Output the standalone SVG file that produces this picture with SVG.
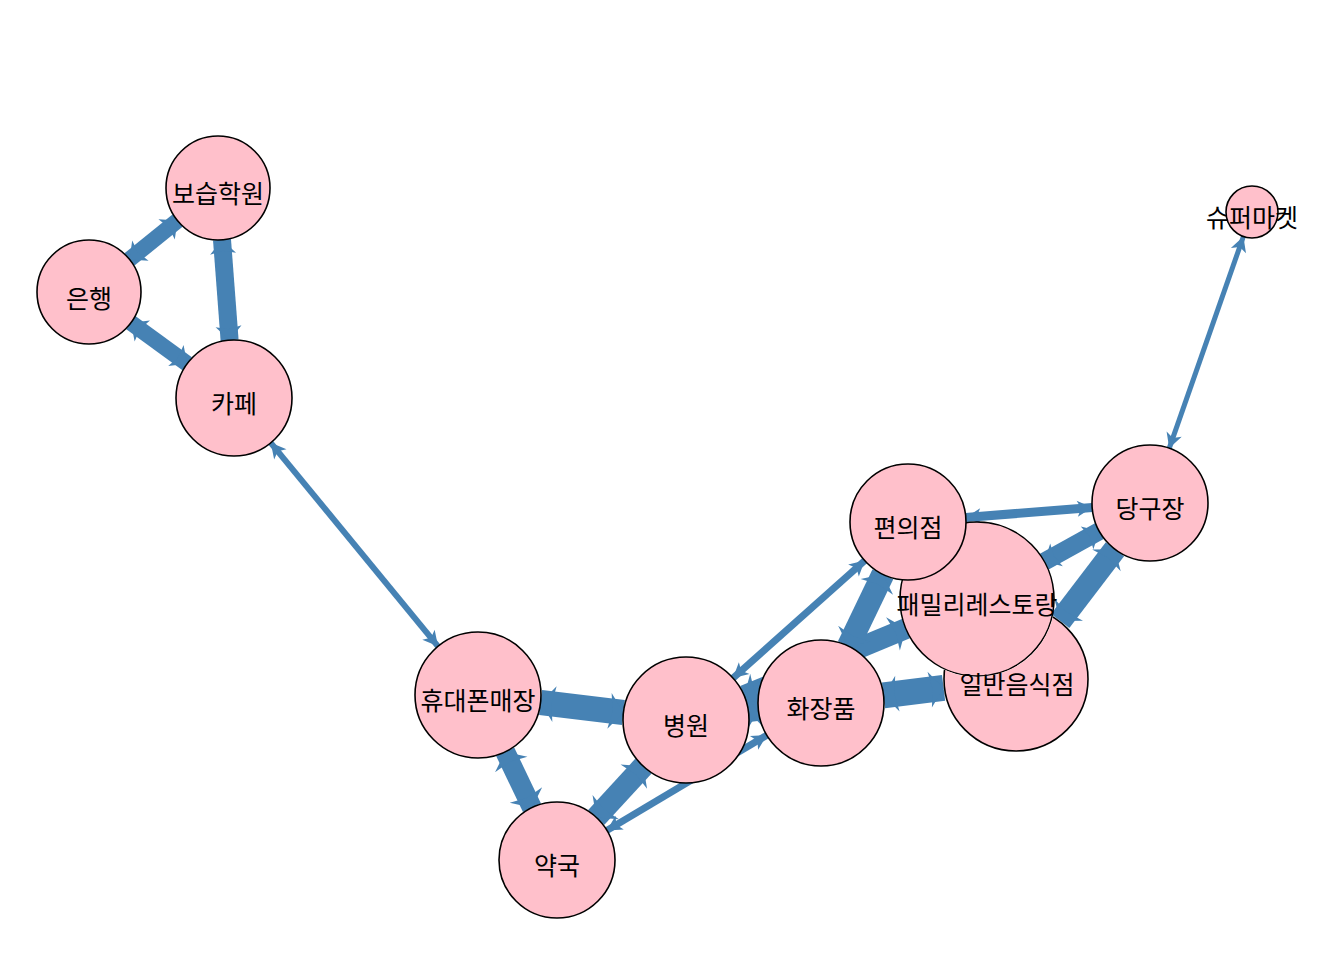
<svg xmlns="http://www.w3.org/2000/svg" width="1336" height="968" viewBox="0 0 1336 968">
<style>
.e{stroke:#4682B4;fill:none;stroke-linecap:butt}
.n{fill:#FFC0CB;stroke:#000;stroke-width:1.6}
.t{font-family:"Noto Sans CJK KR","Noto Sans",sans-serif;font-size:25px;fill:#000;text-anchor:middle;dominant-baseline:central}
.es{marker-start:url(#ah-s);marker-end:url(#ah-s)}
.em{marker-start:url(#ah-m);marker-end:url(#ah-m)}
.el{marker-start:url(#ah-l);marker-end:url(#ah-l)}
</style>
<defs>
<marker id="ah-s" viewBox="-17 -10 19 20" markerWidth="19" markerHeight="20" refX="0" refY="0" markerUnits="userSpaceOnUse" orient="auto-start-reverse"><path d="M0,0 L-15,-8 L-11,0 L-15,8 Z" fill="#4682B4"/></marker>
<marker id="ah-m" viewBox="-17 -15 19 30" markerWidth="19" markerHeight="30" refX="0" refY="0" markerUnits="userSpaceOnUse" orient="auto-start-reverse"><path d="M0,0 L-14,-13 L-11,0 L-14,13 Z" fill="#4682B4"/></marker>
<marker id="ah-l" viewBox="-17 -20 19 40" markerWidth="19" markerHeight="40" refX="0" refY="0" markerUnits="userSpaceOnUse" orient="auto-start-reverse"><path d="M0,0 L-14,-18 L-11,0 L-14,18 Z" fill="#4682B4"/></marker>
<mask id="m-fam" maskUnits="userSpaceOnUse" x="0" y="0" width="1336" height="968">
<rect x="0" y="0" width="1336" height="968" fill="#fff"/>
<circle cx="977" cy="599" r="78" fill="#000"/>
</mask>
</defs>
<rect width="1336" height="968" fill="#fff"/>
<g id="edges">
<line class="e em" stroke-width="16" x1="177.5" y1="220.6" x2="129.5" y2="259.4"/>
<line class="e em" stroke-width="18" x1="222" y1="239.8" x2="229.6" y2="340.2"/>
<line class="e em" stroke-width="16" x1="131" y1="322.7" x2="187.2" y2="363.8"/>
<line class="e es" stroke-width="6" x1="270.8" y1="442.8" x2="438" y2="646.3"/>
<line class="e el" stroke-width="25" x1="540.6" y1="702.5" x2="623.4" y2="712.5"/>
<line class="e el" stroke-width="20" x1="505.2" y1="751.8" x2="532" y2="807.7"/>
<line class="e el" stroke-width="22" x1="643.3" y1="766.3" x2="596.3" y2="817.4"/>
<line class="e es" stroke-width="7" x1="766.9" y1="735.2" x2="606.8" y2="830.4"/>
<line class="e el" stroke-width="21" x1="744.2" y1="695.8" x2="905.9" y2="628.6"/>
<line class="e el" stroke-width="20" x1="748.5" y1="712.1" x2="758.5" y2="710.9"/>
<line class="e es" stroke-width="7" x1="733" y1="678.1" x2="864.7" y2="560.6"/>
<line class="e el" stroke-width="23" x1="848.3" y1="646.2" x2="882.9" y2="574.3"/>
<line class="e el" stroke-width="26" x1="883.5" y1="695.3" x2="943.6" y2="687.9"/>
<line class="e es" stroke-width="9" x1="965.8" y1="517.5" x2="1092.2" y2="507.5"/>
<line class="e em" stroke-width="18" x1="1044.3" y1="561.6" x2="1099.3" y2="531.1"/>
<line class="e el" stroke-width="23" x1="1060.2" y1="620.9" x2="1114.9" y2="549.2"/>
<line class="e es" stroke-width="5" x1="1243.4" y1="236.5" x2="1169.2" y2="448.3"/>
</g>
<g id="node-bosup"><circle class="n" cx="218" cy="188" r="52"/><text class="t" x="218" y="192">보습학원</text></g>
<g id="node-eunhaeng"><circle class="n" cx="89" cy="292" r="52"/><text class="t" x="89" y="297">은행</text></g>
<g id="node-cafe"><circle class="n" cx="234" cy="398" r="58"/><text class="t" x="234" y="402">카페</text></g>
<g id="node-super"><circle class="n" cx="1252" cy="212" r="26"/><text class="t" x="1252" y="216">슈퍼마켓</text></g>
<g id="node-danggu"><circle class="n" cx="1150" cy="503" r="58"/><text class="t" x="1150" y="507">당구장</text></g>
<g id="node-hwajang"><circle class="n" cx="821" cy="703" r="63"/><text class="t" x="821" y="707">화장품</text></g>
<g id="node-byeongwon"><circle class="n" cx="686" cy="720" r="63"/><text class="t" x="686" y="724">병원</text></g>
<g id="node-hyudae"><circle class="n" cx="478" cy="695" r="63"/><text class="t" x="478" y="699">휴대폰매장</text></g>
<g id="node-yakguk"><circle class="n" cx="557" cy="860" r="58"/><text class="t" x="557" y="864">약국</text></g>
<g id="node-family"><circle class="n" cx="977" cy="599" r="77"/><text class="t" x="977" y="603">패밀리레스토랑</text></g>
<g id="node-pyeonui"><circle class="n" cx="908" cy="522" r="58"/><text class="t" x="908" y="526">편의점</text></g>
<g id="node-ilban"><circle class="n" cx="1016" cy="679" r="72" mask="url(#m-fam)"/><text class="t" x="1017" y="683">일반음식점</text></g>
</svg>
